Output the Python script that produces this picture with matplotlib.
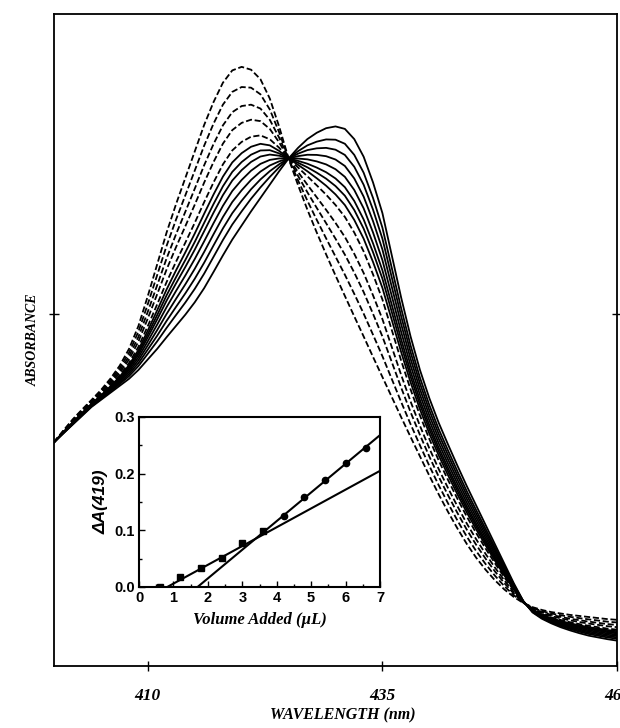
import numpy as np
import matplotlib
matplotlib.use("Agg")
import matplotlib.pyplot as plt
from matplotlib.ticker import MultipleLocator

# wavelength grid (nm) and the two end-point spectra
wavelength = list(range(400, 461))
abs_start = [0.635, 0.668, 0.700, 0.728, 0.755, 0.783, 0.815, 0.852, 0.900, 0.965,
             1.050, 1.140, 1.230, 1.310, 1.385, 1.460, 1.535, 1.600, 1.655, 1.690,
             1.700, 1.692, 1.665, 1.610, 1.530, 1.440, 1.365, 1.295, 1.230, 1.168,
             1.108, 1.050, 0.992, 0.935, 0.877, 0.820, 0.763, 0.706, 0.650, 0.595,
             0.540, 0.487, 0.437, 0.390, 0.346, 0.307, 0.273, 0.243, 0.217, 0.196,
             0.179, 0.167, 0.159, 0.153, 0.149, 0.145, 0.142, 0.139, 0.136, 0.133,
             0.131]
abs_end = [0.635, 0.660, 0.685, 0.710, 0.735, 0.755, 0.775, 0.795, 0.815, 0.840,
           0.870, 0.900, 0.933, 0.965, 0.997, 1.032, 1.072, 1.118, 1.165, 1.210,
           1.250, 1.290, 1.328, 1.366, 1.404, 1.440, 1.470, 1.495, 1.513, 1.526,
           1.531, 1.524, 1.495, 1.445, 1.372, 1.285, 1.165, 1.045, 0.935, 0.840,
           0.760, 0.690, 0.628, 0.568, 0.510, 0.455, 0.400, 0.345, 0.290, 0.235,
           0.185, 0.152, 0.134, 0.121, 0.110, 0.101, 0.093, 0.086, 0.081, 0.076,
           0.072]

# fraction converted for each spectrum (from the drop at 419 nm)
frac_dashed = [0.0, 0.127, 0.247, 0.353, 0.473]
frac_solid = [0.544, 0.600, 0.651, 0.713, 0.778, 0.844, 0.911, 1.0]

# inset: titration at 419 nm
volume = [0.6, 1.2, 1.8, 2.4, 3.0, 3.6, 4.2, 4.8, 5.4, 6.0, 6.6]
delta_a = [0.000, 0.018, 0.033, 0.052, 0.078, 0.098, 0.125, 0.158, 0.189, 0.218, 0.245]
fit1_x, fit1_y = [0.82, 7.0], [0.0, 0.205]
fit2_x, fit2_y = [1.70, 7.0], [0.0, 0.268]

serif = {"family": "Liberation Serif", "weight": "bold", "style": "italic"}

wl = np.array(wavelength)
a0 = np.array(abs_start)
a1 = np.array(abs_end)

fig = plt.figure(figsize=(6.2, 7.28), dpi=100)
ax = fig.add_axes([54 / 620, 62 / 728, 563 / 620, 652 / 728])

for f in frac_dashed:
    ax.plot(wl, a0 + f * (a1 - a0), color="black", lw=1.3, ls=(0, (3.4, 1.5)))
for f in frac_solid:
    ax.plot(wl, a0 + f * (a1 - a0), color="black", lw=1.3)

ax.set_xlim(400, 460)
ax.set_ylim(0, 1.85)
ax.set_xticks([410, 435, 460])
ax.set_yticks([1.0])
ax.set_yticklabels([""])
ax.tick_params(direction="inout", length=7, width=1.0, right=True, pad=12)
for lbl in ax.get_xticklabels():
    lbl.set_fontfamily(serif["family"])
    lbl.set_fontweight("bold")
    lbl.set_fontstyle("italic")
    lbl.set_fontsize(12.5)
for s in ax.spines.values():
    s.set_linewidth(1.3)

fig.text(343 / 620, 1 - 715 / 728, "WAVELENGTH (nm)", ha="center", va="center",
         fontsize=11.5, **serif)
fig.text(33 / 620, 1 - 340 / 728, "ABSORBANCE", ha="center", va="center",
         rotation=90, fontsize=10, **serif)

# inset
ins = fig.add_axes([139 / 620, 141 / 728, 241 / 620, 170 / 728])
ins.plot(fit1_x, fit1_y, color="black", lw=1.5)
ins.plot(fit2_x, fit2_y, color="black", lw=1.5)
ins.plot(volume[:6], delta_a[:6], "s", color="black", ms=4)
ins.plot(volume[6:], delta_a[6:], "o", color="black", ms=4.5)
ins.set_xlim(0, 7)
ins.set_ylim(0, 0.3)
ins.xaxis.set_major_locator(MultipleLocator(1))
ins.xaxis.set_minor_locator(MultipleLocator(0.5))
ins.yaxis.set_major_locator(MultipleLocator(0.1))
ins.yaxis.set_minor_locator(MultipleLocator(0.05))
ins.yaxis.set_major_formatter(plt.FuncFormatter(lambda v, p: f"{v:.1f}"))
ins.tick_params(which="both", direction="in", width=1.0)
ins.tick_params(which="major", length=4, pad=3, labelsize=10.5)
ins.tick_params(which="minor", length=2.5)
for lbl in ins.get_xticklabels() + ins.get_yticklabels():
    lbl.set_fontfamily("Liberation Sans")
    lbl.set_fontweight("bold")
for s in ins.spines.values():
    s.set_linewidth(1.5)
ins.set_xlabel("Volume Added (\u00b5L)", fontsize=12, labelpad=5, **serif)
ins.set_ylabel("\u0394A(419)", fontsize=12.5, labelpad=4, family="Liberation Sans",
               weight="bold", style="italic")

fig.savefig("out.png", dpi=100)
